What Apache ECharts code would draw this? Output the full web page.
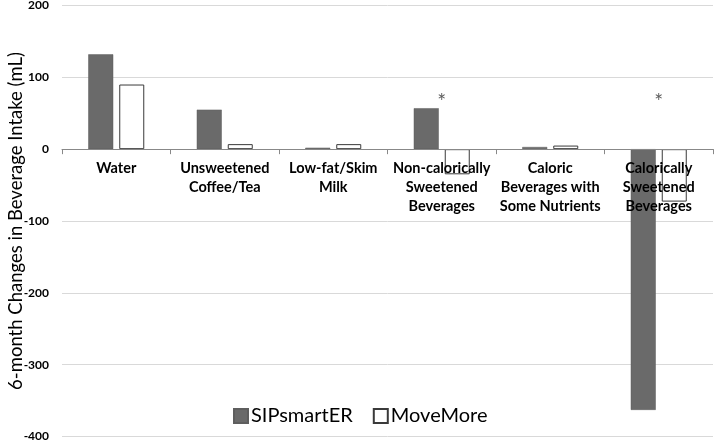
<!DOCTYPE html>
<html>
<head>
<meta charset="utf-8">
<script src="https://cdn.jsdelivr.net/npm/echarts@6/dist/echarts.min.js"></script>
<style>
html,body{margin:0;padding:0;background:#fff;}
#chart{width:714px;height:440px;}
</style>
</head>
<body>
<div id="chart"></div>
<script>
const categories = ['Water', 'Unsweetened\nCoffee/Tea', 'Low-fat/Skim\nMilk', 'Non-calorically\nSweetened\nBeverages', 'Caloric\nBeverages with\nSome Nutrients', 'Calorically\nSweetened\nBeverages'];
const sipsmarter = [132, 55, 2, 57, 3, -363];
const movemore = [90, 7, 7, -35, 5, -73];
const significance = [null, null, null, 66, null, 66];
const yTicks = { min: -400, max: 200, interval: 100 };
const yTitle = '6-month Changes in Beverage Intake (mL)';

const W = 714, H = 440;
const gridTop = 5.5, gridBottom = 3.5;
const gridHeight = H - gridTop - gridBottom;
// move the category axis (line, ticks and labels) up to the zero line of the value scale
const zeroOffset = -gridHeight * (0 - yTicks.min) / (yTicks.max - yTicks.min);

const chart = echarts.init(document.getElementById('chart'), null, { renderer: 'canvas' });
chart.setOption({
  animation: false,
  textStyle: { fontFamily: 'Lato' },
  grid: { left: 62, right: 1, top: gridTop, bottom: gridBottom, containLabel: false, outerBoundsMode: 'none' },
  legend: {
    data: ['SIPsmartER', 'MoveMore'],
    bottom: 9,
    left: 228,
    icon: 'rect',
    itemWidth: 14,
    itemHeight: 14,
    itemGap: 20,
    textStyle: { fontFamily: 'Lato', fontSize: 20, color: '#000', padding: [0, 0, 0, -2] }
  },
  xAxis: {
    type: 'category',
    data: categories,
    position: 'bottom',
    offset: zeroOffset,
    z: 5,
    axisLine: { onZero: false, lineStyle: { color: '#888', width: 1 } },
    axisTick: { show: true, length: 5, lineStyle: { color: '#888' } },
    axisLabel: { interval: 0, margin: 10, fontFamily: 'Lato', fontWeight: 'bold', fontSize: 14.5, lineHeight: 19, color: '#000' },
    splitLine: { show: false }
  },
  yAxis: {
    type: 'value',
    min: yTicks.min,
    max: yTicks.max,
    interval: yTicks.interval,
    name: yTitle,
    nameLocation: 'middle',
    nameGap: 36,
    nameMoveOverlap: false,
    nameTextStyle: { fontFamily: 'Lato', fontSize: 18.5, color: '#000' },
    axisLine: { show: false },
    axisTick: { show: false },
    axisLabel: { margin: 13, fontFamily: 'Lato', fontWeight: 'bold', fontSize: 12, color: '#000' },
    splitLine: { lineStyle: { color: '#d9d9d9', width: 1 } }
  },
  series: [
    {
      name: 'SIPsmartER',
      type: 'bar',
      data: sipsmarter,
      barWidth: 25,
      barGap: '24%',
      itemStyle: { color: '#6a6a6a', borderColor: '#5e5e5e', borderWidth: 0.5 }
    },
    {
      name: 'MoveMore',
      type: 'bar',
      data: movemore,
      barWidth: 25,
      itemStyle: { color: '#ffffff', borderColor: '#3a3a3a', borderWidth: 1 }
    },
    {
      name: 'sig',
      type: 'scatter',
      data: significance,
      symbolSize: 0,
      silent: true,
      label: { show: true, position: 'inside', formatter: '*', fontFamily: 'Lato', fontSize: 21, color: '#333' }
    }
  ]
});
</script>
</body>
</html>
